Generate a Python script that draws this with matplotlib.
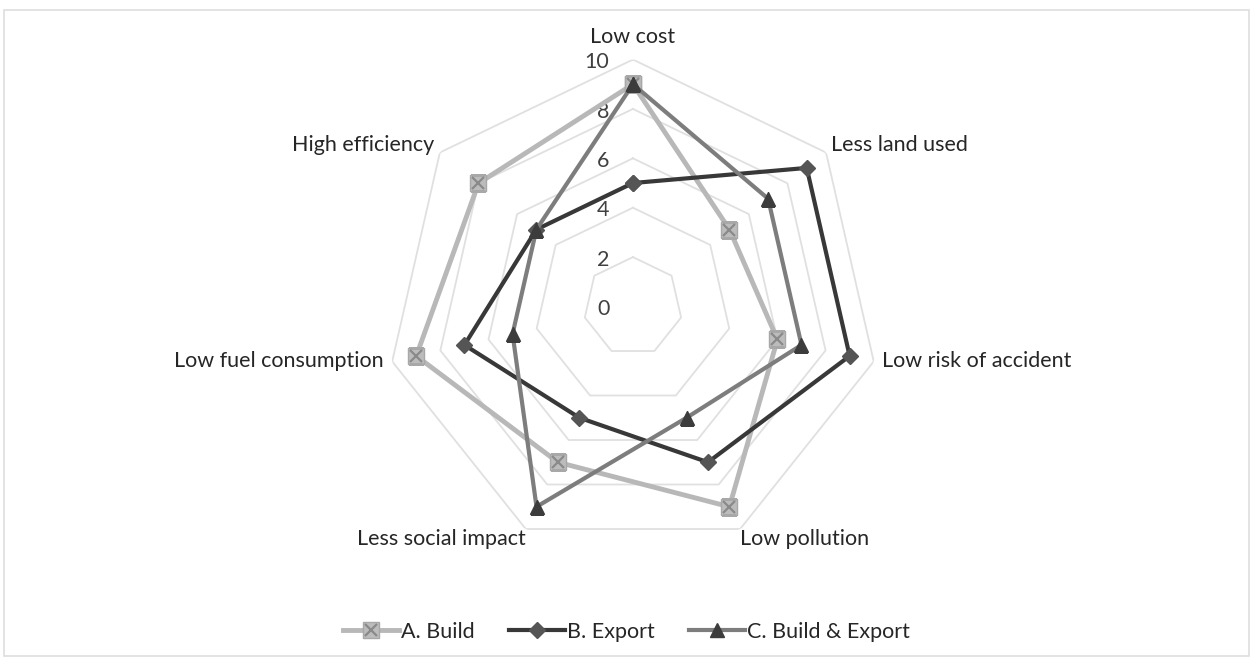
import matplotlib
matplotlib.use("Agg")
import matplotlib.pyplot as plt
import numpy as np
from matplotlib.legend_handler import HandlerTuple
from matplotlib.patches import Rectangle

categories = [
    "Low cost",
    "Less land used",
    "Low risk of accident",
    "Low pollution",
    "Less social impact",
    "Low fuel consumption",
    "High efficiency",
]
build = [9, 5, 6, 9, 7, 9, 8]
export = [5, 9, 9, 7, 5, 7, 5]
build_export = [9, 7, 7, 5, 9, 5, 5]
ring_levels = [2, 4, 6, 8, 10]
tick_values = [0, 2, 4, 6, 8, 10]

plt.rcParams["font.family"] = ["Lato", "DejaVu Sans"]
FS = 15.5

fig = plt.figure(figsize=(12.53, 6.63), dpi=100)
fig.patches.append(Rectangle((0.003, 0.01), 0.994, 0.975, transform=fig.transFigure,
                             fill=False, edgecolor="#dedede", linewidth=1.2))

ax = fig.add_axes([0.308, 0.1652, 0.3943, 0.745], projection="polar")
ax.set_theta_zero_location("N")
ax.set_theta_direction(-1)
ax.set_ylim(0, 10)
ax.set_axis_off()

n = len(categories)
theta = np.linspace(0, 2 * np.pi, n, endpoint=False)
theta_closed = np.append(theta, theta[0])


def closed(vals):
    return np.append(vals, vals[0])


# heptagon grid
for lvl in ring_levels:
    ax.plot(theta_closed, [lvl] * (n + 1), color="#e0e0e0", linewidth=1.3, zorder=1)

# value labels along the top axis
for v in tick_values:
    ax.annotate(str(v), xy=(0, v), xytext=(-17, -2), textcoords="offset points",
                ha="right", va="center", fontsize=FS, color="#404040")

# category labels
for t, name in zip(theta, categories):
    s, c = np.sin(t), np.cos(t)
    if abs(s) < 0.1:
        ha = "center"
    elif s > 0:
        ha = "left"
    else:
        ha = "right"
    if c > 0.9:
        va = "bottom"
        off = (0, 9)
    elif c > 0.3:
        va = "bottom"
        off = (5 * s, -2)
    elif c > -0.5:
        va = "center"
        off = (6 * np.sign(s), 0)
    else:
        va = "top"
        off = (0, 0)
    ax.annotate(name, xy=(t, 10), xytext=off, textcoords="offset points",
                ha=ha, va=va, fontsize=FS, color="#262626")

# series A
line_a, = ax.plot(theta_closed, closed(build), color="#b8b8b8", linewidth=3.5,
                  marker="s", markersize=11, markerfacecolor="#bcbcbc",
                  markeredgecolor="#a8a8a8", zorder=3)
x_a, = ax.plot(theta, build, linestyle="none", marker="x", markersize=9,
               markeredgewidth=1.6, color="#8a8a8a", zorder=4)

# series B
line_b, = ax.plot(theta_closed, closed(export), color="#383838", linewidth=3.0,
                  marker="D", markersize=8, markerfacecolor="#555555",
                  markeredgecolor="#555555", zorder=5)

# series C
line_c, = ax.plot(theta_closed, closed(build_export), color="#7d7d7d", linewidth=3.0,
                  marker="^", markersize=10, markerfacecolor="#3c3c3c",
                  markeredgecolor="#3c3c3c", zorder=6)

fig.legend([(line_a, x_a), line_b, line_c],
           ["A. Build", "B. Export", "C. Build & Export"],
           handler_map={tuple: HandlerTuple(ndivide=1)},
           loc="center", bbox_to_anchor=(0.5, 0.047), ncol=3, frameon=False,
           fontsize=FS, handlelength=2.6, handletextpad=0.1, columnspacing=1.6,
           labelcolor="#262626")

fig.savefig("out.png", dpi=100)
